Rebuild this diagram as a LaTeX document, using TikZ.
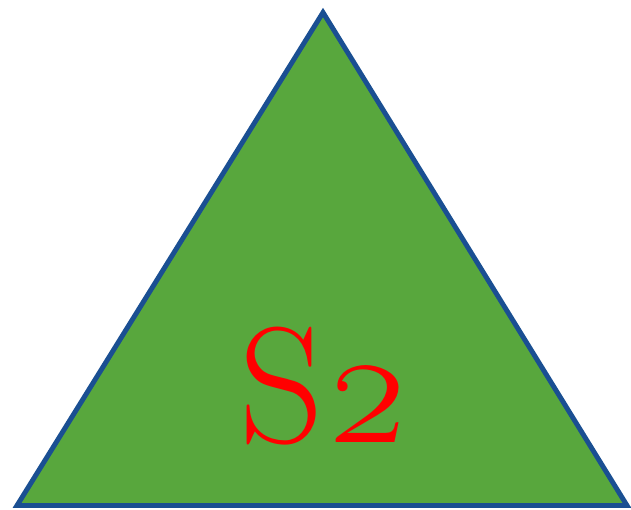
\documentclass[tikz,border=0pt]{standalone}
\usepackage{tikz}
\usepackage{fontspec}
\newfontfamily\oldfig[Numbers=OldStyle]{Latin Modern Roman}
\definecolor{trigreen}{HTML}{58A73D}
\definecolor{triblue}{HTML}{1A4F92}
\tikzset{
    setface/.style={fill=trigreen, draw=triblue, line width=2.8pt, line join=miter},
    setlabel/.style={text=red, font={\fontsize{94}{94}\selectfont}, anchor=base, inner sep=0pt}
}
\begin{document}
\begin{tikzpicture}
    \useasboundingbox (0,0) rectangle (12.62,10.2);
    \coordinate (apex) at (6.46,9.95);
    \coordinate (left) at (0.34,0.09);
    \coordinate (right) at (12.54,0.09);
    \draw[setface] (apex) -- (left) -- (right) -- cycle;
    \node[setlabel] (name) at (6.5,1.34) {S{\oldfig 2}};
\end{tikzpicture}
\end{document}
